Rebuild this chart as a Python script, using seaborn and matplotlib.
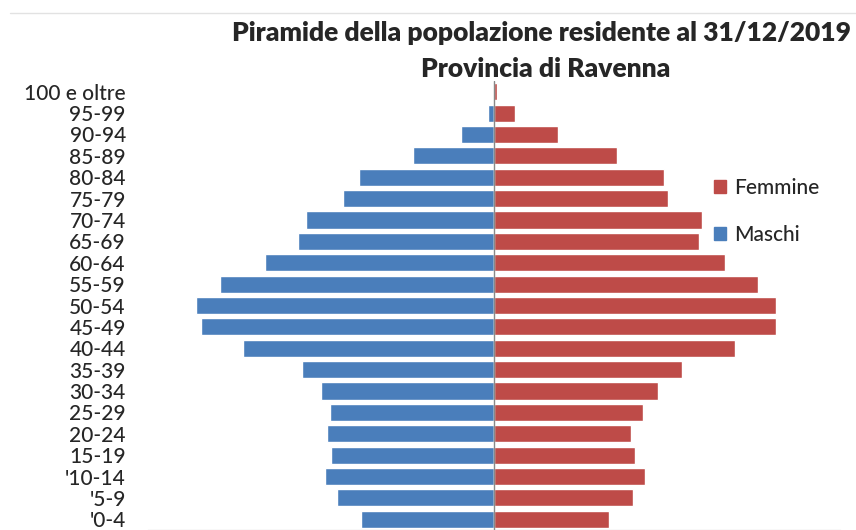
import matplotlib
matplotlib.use("Agg")
import matplotlib.pyplot as plt
import numpy as np
import pandas as pd
import seaborn as sns
from matplotlib.lines import Line2D
from matplotlib.patches import Patch

# age classes, top to bottom as in the chart
age_classes = [
    "100 e oltre", "95-99", "90-94", "85-89", "80-84", "75-79", "70-74",
    "65-69", "60-64", "55-59", "50-54", "45-49", "40-44", "35-39", "30-34",
    "25-29", "20-24", "15-19", "'10-14", "'5-9", "'0-4",
]
maschi = [
    60, 320, 1880, 4670, 7800, 8720, 10870, 11330, 13250, 15860, 17250,
    16960, 14520, 11100, 10000, 9480, 9650, 9420, 9770, 9070, 7680,
]
femmine = [
    145, 1190, 3680, 7100, 9830, 10060, 12030, 11860, 13360, 15280, 16320,
    16320, 13940, 10870, 9480, 8610, 7910, 8140, 8720, 8030, 6640,
]
x_ticks = [-20000, -10000, 0, 10000, 20000]

BLUE = "#4a7ebb"
RED = "#be4b48"

sns.set_style("white")
plt.rcParams["font.family"] = ["Lato", "DejaVu Sans"]

df = pd.DataFrame({"Classe": age_classes, "Maschi": maschi, "Femmine": femmine})
df["Maschi_neg"] = -df["Maschi"]

fig = plt.figure(figsize=(8.56, 5.30), dpi=100)
ax = fig.add_axes([148 / 856, 0.0, 692 / 856, 449 / 530])

sns.barplot(data=df, y="Classe", x="Maschi_neg", order=age_classes,
            color=BLUE, saturation=1, width=0.8, ax=ax)
sns.barplot(data=df, y="Classe", x="Femmine", order=age_classes,
            color=RED, saturation=1, width=0.8, ax=ax)

ax.set_xlim(x_ticks[0], x_ticks[-1])
ax.set_xticks(x_ticks)
ax.set_xticklabels([])
ax.tick_params(axis="x", direction="in", length=7, color="#888888", width=1)
ax.tick_params(axis="y", length=0, pad=16, labelsize=15, labelcolor="#262626")
for lab in ax.get_yticklabels():
    lab.set_fontweight("medium")
ax.set_xlabel("")
ax.set_ylabel("")
for side in ["top", "right", "left"]:
    ax.spines[side].set_visible(False)
ax.spines["bottom"].set_color("#888888")
ax.axvline(0, color="#888888", linewidth=1, zorder=3)

handles = [Patch(color=RED, label="Femmine"), Patch(color=BLUE, label="Maschi")]
fig.legend(handles=handles, loc="upper left", bbox_to_anchor=(695 / 856, 1 - 159 / 530),
           frameon=False, prop={"size": 15, "weight": "medium"}, handlelength=0.6,
           handleheight=0.6, handletextpad=0.4, labelspacing=1.3)

fig.text(542 / 856, 1 - 33 / 530, "Piramide della popolazione residente al 31/12/2019",
         ha="center", va="center", fontsize=19, fontweight="heavy")
fig.text(546 / 856, 1 - 69 / 530, "Provincia di Ravenna",
         ha="center", va="center", fontsize=19, fontweight="heavy")

fig.add_artist(Line2D([10 / 856, 1], [1 - 12.5 / 530] * 2, color="#e2e2e2", linewidth=1))

fig.savefig("out.png", dpi=100)
